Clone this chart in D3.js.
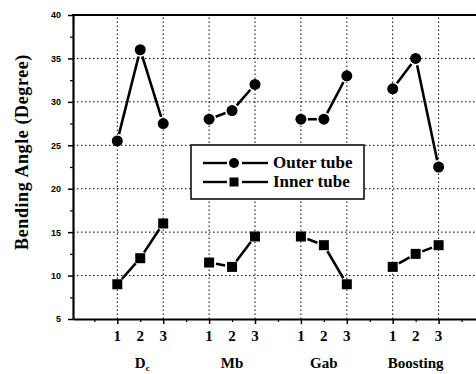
<!DOCTYPE html>
<html>
<head>
<meta charset="utf-8">
<script src="https://cdn.jsdelivr.net/npm/d3@7"></script>
<style>
  body { margin: 0; background: #fff; }
  svg { display: block; }
  .axis path, .axis line { stroke: #000; }
  .serif { font-family: "Liberation Serif", "DejaVu Serif", serif; font-weight: bold; }
</style>
</head>
<body>
<div id="chart"></div>
<script>
// chart values
const groups = ["D", "Mb", "Gab", "Boosting"]
const groupSub = ["c", "", "", ""]
const levels = ["1", "2", "3"]
const outerTube = [25.5, 36, 27.5, 28, 29, 32, 28, 28, 33, 31.5, 35, 22.5]
const innerTube = [9, 12, 16, 11.5, 11, 14.5, 14.5, 13.5, 9, 11, 12.5, 13.5]
const yTicks = [5, 10, 15, 20, 25, 30, 35, 40]
const seriesNames = ["Outer tube", "Inner tube"]

const width = 476, height = 374
const margin = { left: 73, top: 15, right: -20, bottom: 55 }

const svg = d3.select("#chart").append("svg")
    .attr("width", width)
    .attr("height", height)

svg.append("rect").attr("width", width).attr("height", height).attr("fill", "#fff")

/** position index of each point: groups separated by an empty slot */
const posIndex = (i) => Math.floor(i / 3) * 4 + (i % 3) + 1

const x = d3.scaleLinear()
    .domain([-0.93, 17.5])
    .range([margin.left, width - margin.right])

const y = d3.scaleLinear()
    .domain([5, 40])
    .range([height - margin.bottom, margin.top])

const x0 = x.range()[0], x1 = x.range()[1]
const y0 = y.range()[0], y1 = y.range()[1]

const sans = "'Liberation Sans', Arial, sans-serif"

// grid
const gridStyle = (sel) => sel
    .attr("stroke", "#000")
    .attr("stroke-width", 1)
    .attr("stroke-dasharray", "1.5,2.5")

svg.append("g").selectAll("line")
    .data(yTicks.filter(v => v > 5 && v < 40))
    .enter().append("line")
    .attr("x1", x0).attr("x2", x1)
    .attr("y1", d => y(d)).attr("y2", d => y(d))
    .call(gridStyle)

const majorX = d3.range(1, 17, 2)
svg.append("g").selectAll("line")
    .data(majorX)
    .enter().append("line")
    .attr("x1", d => x(d)).attr("x2", d => x(d))
    .attr("y1", y0).attr("y2", y1)
    .call(gridStyle)

// y axis
svg.append("g")
    .attr("class", "axis")
    .attr("transform", `translate(${x0},0)`)
    .call(d3.axisLeft(y).tickValues(yTicks).tickSize(5).tickSizeOuter(0))
    .call(g => g.select(".domain").attr("stroke-width", 2.2))
    .call(g => g.selectAll(".tick line").attr("stroke-width", 1.5))
    .call(g => g.selectAll("text")
        .attr("font-family", sans)
        .attr("font-weight", "bold")
        .attr("font-size", 9)
        .attr("dx", -4))

svg.append("g")
    .attr("class", "axis")
    .attr("transform", `translate(${x0},0)`)
    .call(d3.axisLeft(y).tickValues(d3.range(7.5, 40, 5)).tickSize(3).tickFormat(""))
    .call(g => g.select(".domain").remove())
    .call(g => g.selectAll(".tick line").attr("stroke-width", 1.2))

// x axis
svg.append("g")
    .attr("class", "axis")
    .attr("transform", `translate(0,${y0})`)
    .call(d3.axisBottom(x).tickValues(majorX).tickSize(5).tickSizeOuter(0).tickFormat(""))
    .call(g => g.select(".domain").attr("stroke-width", 2.2))
    .call(g => g.selectAll(".tick line").attr("stroke-width", 1.5))

svg.append("g")
    .attr("class", "axis")
    .attr("transform", `translate(0,${y0})`)
    .call(d3.axisBottom(x).tickValues(d3.range(0, 18, 2)).tickSize(3).tickFormat(""))
    .call(g => g.select(".domain").remove())
    .call(g => g.selectAll(".tick line").attr("stroke-width", 1.2))

// top frame
svg.append("line")
    .attr("x1", x0 - 1).attr("x2", x1)
    .attr("y1", y1).attr("y2", y1)
    .attr("stroke", "#000").attr("stroke-width", 2.2)

// level labels
svg.append("g").selectAll("text")
    .data(d3.range(outerTube.length))
    .enter().append("text")
    .attr("class", "serif")
    .attr("x", i => x(posIndex(i)))
    .attr("y", y0 + 22)
    .attr("text-anchor", "middle")
    .attr("font-size", 15)
    .text(i => levels[i % 3])

// group labels
const gl = svg.append("g").selectAll("text")
    .data(groups)
    .enter().append("text")
    .attr("class", "serif")
    .attr("x", (d, g) => x(g * 4 + 2) + (groupSub[g] ? 2 : 0))
    .attr("y", y0 + 49)
    .attr("text-anchor", "middle")
    .attr("font-size", 15)
gl.append("tspan").text(d => d)
gl.append("tspan")
    .attr("font-size", 9)
    .attr("dy", 3)
    .text((d, g) => groupSub[g])

// y title
svg.append("text")
    .attr("class", "serif")
    .attr("transform", `translate(28,${(y0 + y1) / 2 - 15}) rotate(-90)`)
    .attr("text-anchor", "middle")
    .attr("font-size", 18)
    .attr("letter-spacing", 0.6)
    .text("Bending Angle (Degree)")

// series lines, with gaps at the symbols
const gap = 7
function drawSeries(values) {
    const segs = []
    values.forEach((v, i) => {
        if (i % 3 < 2) segs.push([i, i + 1])
    })
    svg.append("g").selectAll("line")
        .data(segs)
        .enter().append("line")
        .each(function ([a, b]) {
            const xa = x(posIndex(a)), ya = y(values[a])
            const xb = x(posIndex(b)), yb = y(values[b])
            const len = Math.hypot(xb - xa, yb - ya)
            const ux = (xb - xa) / len, uy = (yb - ya) / len
            d3.select(this)
                .attr("x1", xa + ux * gap).attr("y1", ya + uy * gap)
                .attr("x2", xb - ux * gap).attr("y2", yb - uy * gap)
        })
        .attr("stroke", "#000")
        .attr("stroke-width", 2.6)
}
drawSeries(outerTube)
drawSeries(innerTube)

svg.append("g").selectAll("circle")
    .data(outerTube)
    .enter().append("circle")
    .attr("cx", (d, i) => x(posIndex(i)))
    .attr("cy", d => y(d))
    .attr("r", 5.5)
    .attr("fill", "#000")

svg.append("g").selectAll("rect")
    .data(innerTube)
    .enter().append("rect")
    .attr("x", (d, i) => x(posIndex(i)) - 5)
    .attr("y", d => y(d) - 5)
    .attr("width", 10)
    .attr("height", 10)
    .attr("fill", "#000")

// legend
const legend = svg.append("g").attr("transform", "translate(191,145)")
legend.append("rect")
    .attr("width", 173).attr("height", 54)
    .attr("fill", "#fff")
    .attr("stroke", "#000").attr("stroke-width", 1.5)

seriesNames.forEach((name, k) => {
    const ly = 18 + k * 19
    legend.append("line")
        .attr("x1", 12).attr("x2", 36)
        .attr("y1", ly).attr("y2", ly)
        .attr("stroke", "#000").attr("stroke-width", 2.4)
    legend.append("line")
        .attr("x1", 51).attr("x2", 77)
        .attr("y1", ly).attr("y2", ly)
        .attr("stroke", "#000").attr("stroke-width", 2.4)
    if (k === 0) {
        legend.append("circle").attr("cx", 43).attr("cy", ly).attr("r", 5).attr("fill", "#000")
    } else {
        legend.append("rect").attr("x", 38.5).attr("y", ly - 4.5)
            .attr("width", 9).attr("height", 9).attr("fill", "#000")
    }
    legend.append("text")
        .attr("class", "serif")
        .attr("x", 82).attr("y", ly + 5)
        .attr("font-size", 17)
        .text(name)
})
</script>
</body>
</html>
